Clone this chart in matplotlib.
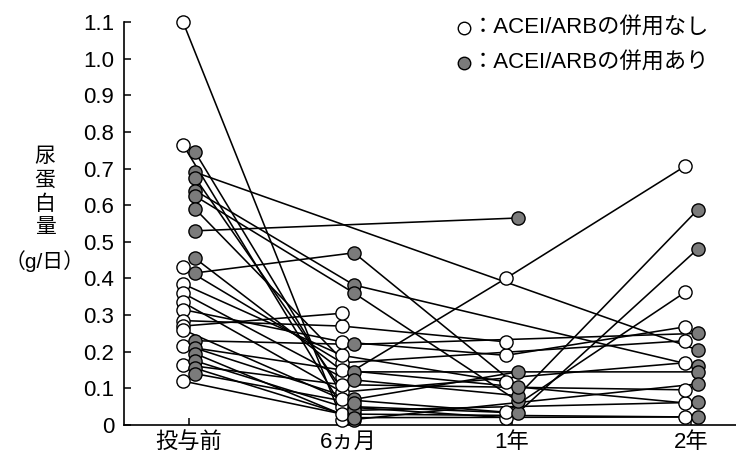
import matplotlib
matplotlib.use("Agg")
import matplotlib.pyplot as plt

plt.rcParams['font.family'] = ['Liberation Sans', 'Noto Sans CJK JP']

# --------------------- Data --------------------- #
time_labels = ["投与前", "6ヵ月", "1年", "2年"]
time_pos = [0, 1, 2.03, 3.16]

# ACEI/ARB併用なし (open circles): value at 投与前, 6ヵ月, 1年, 2年 per patient
open_pre = [1.10, 0.765, 0.43, 0.385, 0.36, 0.335, 0.315, 0.285, 0.27, 0.26, 0.215, 0.165, 0.12]
open_6m = [0.015, 0.05, 0.17, 0.19, 0.13, 0.09, 0.227, 0.27, 0.305, 0.07, 0.15, 0.11, 0.03]
open_1y = [None, 0.02, None, 0.118, 0.40, None, 0.19, 0.227, None, 0.035, None, None, None]
open_2y = [None, None, 0.23, None, 0.707, 0.17, 0.268, None, None, 0.363, 0.06, 0.096, 0.022]

# ACEI/ARB併用あり (filled circles)
fill_pre = [0.745, 0.69, 0.675, 0.64, 0.625, 0.59, 0.53, 0.455, 0.415, 0.23, 0.21, 0.195, 0.175, 0.155, 0.14]
fill_6m = [0.03, None, 0.05, 0.382, 0.36, 0.145, None, 0.123, 0.47, 0.22, 0.07, 0.015, 0.04, 0.02, 0.06]
fill_1y = [None, None, 0.033, None, 0.065, None, 0.565, 0.08, 0.105, None, 0.145, None, None, None, None]
fill_2y = [None, 0.205, 0.48, 0.16, None, 0.145, None, 0.587, None, 0.25, None, 0.112, 0.062, 0.022, None]

y_ticks = [0, 0.1, 0.2, 0.3, 0.4, 0.5, 0.6, 0.7, 0.8, 0.9, 1.0, 1.1]
y_tick_labels = ["0", "0.1", "0.2", "0.3", "0.4", "0.5", "0.6", "0.7", "0.8", "0.9", "1.0", "1.1"]

ylabel_parts = ["尿", "蛋", "白", "量", "（g/日）"]

FILL_COLOR = '#7b7b7b'
MS = 9.5
OFF = 0.038

# --------------------- Figure --------------------- #
fig = plt.figure(figsize=(7.36, 4.59), dpi=100)
ax = fig.add_axes([124 / 736, 34 / 459, 1 - 124 / 736, (425 - 22) / 459])


def draw_lines(series, offset):
    # one polyline per patient, skipping missing visits
    for i in range(len(series[0])):
        xs, ys = [], []
        for t, vals in enumerate(series):
            if vals[i] is not None:
                xs.append(time_pos[t] + offset)
                ys.append(vals[i])
        ax.plot(xs, ys, color='black', lw=1.15, zorder=1, clip_on=False)


def draw_markers(series, offset, face):
    for t, vals in enumerate(series):
        ys = [v for v in vals if v is not None]
        xs = [time_pos[t] + offset] * len(ys)
        ax.plot(xs, ys, 'o', ms=MS, mfc=face, mec='black', mew=1.0,
                zorder=3, clip_on=False)


open_series = [open_pre, open_6m, open_1y, open_2y]
fill_series = [fill_pre, fill_6m, fill_1y, fill_2y]

draw_lines(open_series, -OFF)
draw_lines(fill_series, OFF)
draw_markers(open_series, -OFF, 'white')
draw_markers(fill_series, OFF, FILL_COLOR)

# --------------------- Axes styling --------------------- #
ax.set_xlim(-0.409, 3.44)
ax.set_ylim(0, 1.1)
ax.spines['top'].set_visible(False)
ax.spines['right'].set_visible(False)
ax.spines['left'].set_linewidth(1.2)
ax.spines['bottom'].set_linewidth(1.2)

ax.set_yticks(y_ticks)
ax.set_yticklabels(y_tick_labels)
ax.set_xticks(time_pos)
ax.set_xticklabels(time_labels)
ax.tick_params(axis='both', direction='in', length=5, width=1.1, labelsize=16)
ax.tick_params(axis='y', pad=7)
ax.tick_params(axis='x', pad=5)

# y label, written vertically one character per row
for k, part in enumerate(ylabel_parts):
    row_y = 157 + 23.5 * k + (10 if k == 4 else 0)
    fig.text(45 / 736, 1 - row_y / 459, part, ha='center', va='center', fontsize=15)

# --------------------- Legend --------------------- #
for row_y, face, label in [(28, 'white', "：ACEI/ARBの併用なし"),
                           (63, FILL_COLOR, "：ACEI/ARBの併用あり")]:
    fig.lines.append(plt.Line2D([464 / 736], [1 - row_y / 459], marker='o', ms=9,
                                mfc=face, mec='black', mew=1.0, ls='none',
                                transform=fig.transFigure))
    fig.text(472 / 736, 1 - row_y / 459, label, ha='left', va='center', fontsize=16)

fig.savefig("out.png", dpi=100)
